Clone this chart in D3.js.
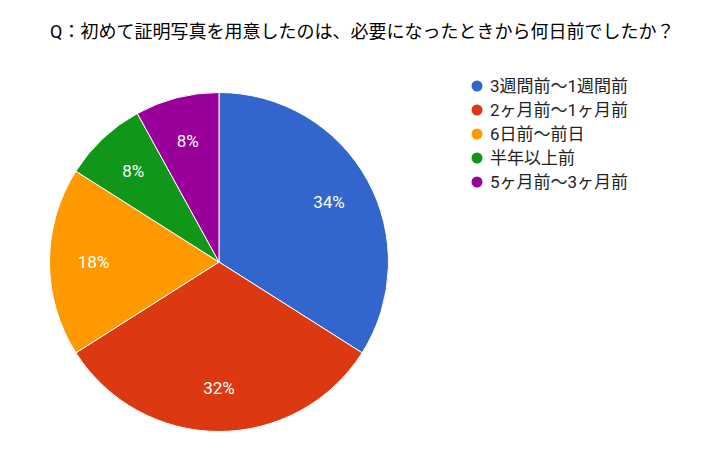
<!DOCTYPE html>
<html><head><meta charset="utf-8">
<script src="https://cdn.jsdelivr.net/npm/d3@7"></script>
<style>body{margin:0;background:#fff}svg{display:block}</style>
</head><body>
<script>
const title = "Q：初めて証明写真を用意したのは、必要になったときから何日前でしたか？";
const categories = ["3週間前〜1週間前","2ヶ月前〜1ヶ月前","6日前〜前日","半年以上前","5ヶ月前〜3ヶ月前"];
const values = [34, 32, 18, 8, 8];
const colors = ["#3366cc","#dc3912","#ff9900","#109618","#990099"];

const W = 720, H = 463;
const font = "Roboto, 'Noto Sans CJK JP', sans-serif";
const svg = d3.select("body").append("svg").attr("width", W).attr("height", H);

svg.append("text").attr("x", 50).attr("y", 38)
  .attr("font-family", font).attr("font-size", 18).attr("fill", "#000")
  .text(title);

const cx = 219, cy = 262, r = 169.5;
const pie = d3.pie().sort(null).value(d => d)(values);
const arc = d3.arc().innerRadius(0).outerRadius(r);
const labelArc = d3.arc().innerRadius(r * 0.74).outerRadius(r * 0.74);
const g = svg.append("g").attr("transform", `translate(${cx},${cy})`);
g.selectAll("path").data(pie).join("path")
  .attr("d", arc).attr("fill", (d, i) => colors[i])
  .attr("stroke", "#fff").attr("stroke-width", 1);
g.selectAll("text").data(pie).join("text")
  .attr("transform", d => `translate(${labelArc.centroid(d)})`)
  .attr("text-anchor", "middle").attr("dy", "0.36em")
  .attr("font-family", font).attr("font-size", 17).attr("fill", "#fff")
  .text(d => d.data + "%");

const y = d3.scalePoint().domain(categories).range([86, 182]);
const leg = svg.append("g");
leg.selectAll("circle").data(categories).join("circle")
  .attr("cx", 477).attr("cy", d => y(d)).attr("r", 5.5)
  .attr("fill", (d, i) => colors[i]);
leg.selectAll("text").data(categories).join("text")
  .attr("x", 490).attr("y", d => y(d)).attr("dy", "0.36em")
  .attr("font-family", font).attr("font-size", 17).attr("fill", "#222")
  .text(d => d);
</script>
</body></html>
